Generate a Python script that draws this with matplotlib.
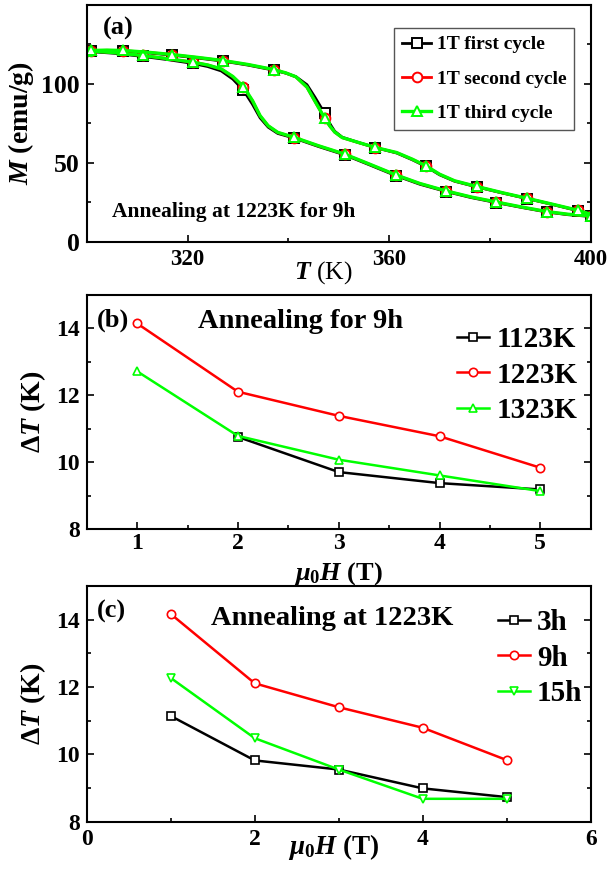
import matplotlib
matplotlib.use('Agg')
import matplotlib.pyplot as plt
from matplotlib.ticker import MultipleLocator, FixedLocator

plt.rcParams.update({
    'font.family': ['Liberation Serif', 'DejaVu Serif'],
    'font.weight': 'bold',
    'mathtext.fontset': 'custom',
    'mathtext.rm': 'Liberation Serif:bold',
    'mathtext.it': 'Liberation Serif:italic:bold',
    'mathtext.bf': 'Liberation Serif:bold',
    'axes.linewidth': 1.5,
})

# ---------------- panel (a) data : M(T) loops, 1 T ----------------
# warming branch (lower curve)
T_low = [300, 305.5, 311.1, 316, 321, 324, 326.7, 329, 331.1, 332.9, 334.4, 336, 337.9,
         341.2, 346, 351.2, 356.1, 361.3, 366.1, 371.3, 376.2, 381.2, 386.3, 391.3, 395.5, 400]
M_low_third = [121, 119.8, 118, 116, 113.8, 112, 109.5, 104.7, 98.3, 89.4, 79.9, 73.5, 69.3,
               66.1, 60.8, 55.5, 49.2, 42.4, 36.9, 32.2, 28.4, 25.2, 22, 19.1, 17.4, 16.3]
M_low_second = [121, 119.8, 118, 116, 113.8, 112, 109.4, 104.5, 98.0, 89.2, 79.7, 73.4, 69.2,
                66.0, 60.7, 55.4, 49.1, 42.3, 36.8, 32.1, 28.3, 25.1, 21.9, 19.0, 17.3, 16.2]
M_low_first = [120.6, 119.4, 117.4, 115.4, 113.0, 111.0, 108.2, 103.0, 96.0, 87.0, 78.5, 72.6, 68.6,
               65.6, 60.3, 55.0, 48.7, 41.9, 36.4, 31.8, 28.0, 24.8, 21.7, 18.8, 17.1, 16.0]
mark_low = [0, 2, 4, 8, 13, 15, 17, 19, 21, 23, 25]

# cooling branch (upper curve)
T_up = [300.8, 304, 307.2, 312, 317, 322, 327.1, 332, 337.1, 339.5, 341.5, 343.7, 345.3,
        347.2, 348.2, 349.2, 350.7, 353.8, 357.3, 361.5, 364.6, 367.3, 370, 373, 377.4,
        382.4, 387.4, 392.5, 397.5, 400]
M_up_third = [121.2, 121.4, 121.2, 120.1, 118.6, 116.8, 114.8, 112.3, 109.1, 107, 104.5, 98, 89,
              78.4, 73.5, 69.5, 66, 63, 59.7, 56.5, 52.3, 48.1, 42.8, 38.6, 35,
              31.1, 27.5, 23.7, 19.9, 17.4]
M_up_second = [121.1, 121.3, 121.1, 120.0, 118.5, 116.7, 114.7, 112.2, 109.0, 106.9, 104.4, 97.8, 88.8,
               78.3, 73.4, 69.4, 65.9, 62.9, 59.6, 56.4, 52.2, 48.0, 42.7, 38.5, 34.9,
               31.0, 27.4, 23.6, 19.8, 17.3]
M_up_first = [120.8, 121.0, 120.8, 119.7, 118.2, 116.4, 114.4, 111.9, 108.7, 106.8, 104.6, 99.5, 91.5,
              81.4, 75.0, 70.0, 66.2, 63.0, 59.6, 56.2, 51.9, 47.7, 42.4, 38.3, 34.7,
              30.9, 27.3, 23.5, 19.6, 17.2]
mark_up = [0, 2, 4, 6, 8, 13, 18, 21, 24, 26, 28]

M_ticks = [0, 50, 100]
M_minor = [25, 75, 125]

# ---------------- panel (b) data ----------------
H_b = [1, 2, 3, 4, 5]
H_b_1123 = [2, 3, 4, 5]
dT_1123K = [10.76, 9.71, 9.38, 9.19]
dT_1223K = [14.15, 12.11, 11.39, 10.78, 9.84]
dT_1323K = [12.72, 10.79, 10.08, 9.61, 9.14]

# ---------------- panel (c) data ----------------
H_c = [1, 2, 3, 4, 5]
dT_3h = [11.14, 9.82, 9.55, 8.99, 8.73]
dT_9h = [14.17, 12.11, 11.40, 10.79, 9.83]
dT_15h = [12.27, 10.48, 9.55, 8.68, 8.68]

BLACK = '#000000'
RED = '#ff0000'
GREEN = '#00ff00'

fig = plt.figure(figsize=(6.08, 8.69), dpi=100)
W, H = 608.0, 869.0


def axes_px(left, right, top, bottom):
    return fig.add_axes([left / W, 1 - bottom / H, (right - left) / W, (bottom - top) / H])


def style(ax, fs_x, fs_y, xpad=5):
    ax.tick_params(which='both', direction='in', top=False, right=True, width=1.2)
    ax.tick_params(which='major', length=5)
    ax.tick_params(which='minor', length=3)
    ax.tick_params(axis='x', labelsize=fs_x, pad=xpad)
    ax.tick_params(axis='y', labelsize=fs_y, pad=5)
    for lab in ax.get_xticklabels() + ax.get_yticklabels():
        lab.set_fontweight('bold')


def place_xlabel(ax, x, y):
    ax.xaxis.set_label_coords(x, y)
    ax.xaxis.label.set_va('center')


# ---------- (a) ----------
axa = axes_px(86.7, 590.7, 5, 241.7)
for Ml, Mu, c, mk, lab in [(M_low_first, M_up_first, BLACK, 's', '1T first cycle'),
                           (M_low_second, M_up_second, RED, 'o', '1T second cycle'),
                           (M_low_third, M_up_third, GREEN, '^', '1T third cycle')]:
    lw = 2.4 if c == GREEN else 2.0
    axa.plot(T_low, Ml, color=c, lw=lw, marker=mk, markevery=mark_low, ms=7,
             mfc='white', mec=c, mew=1.4, label=lab)
    axa.plot(T_up, Mu, color=c, lw=lw, marker=mk, markevery=mark_up, ms=7,
             mfc='white', mec=c, mew=1.4)
axa.set_xlim(300, 400)
axa.set_ylim(0, 150)
axa.xaxis.set_major_locator(MultipleLocator(40))
axa.xaxis.set_minor_locator(MultipleLocator(20))
axa.yaxis.set_major_locator(FixedLocator(M_ticks))
axa.yaxis.set_minor_locator(FixedLocator(M_minor))
style(axa, 16.5, 18.5)
axa.set_ylabel(r'$\mathit{M}$ (emu/g)', fontsize=20, fontweight='bold', labelpad=4)
axa.set_xlabel(r'$\mathit{T}$ (K)', fontsize=18.5, fontweight='normal')
place_xlabel(axa, 0.47, -0.132)
leg = axa.legend(loc='upper left', bbox_to_anchor=(0.61, 0.903), borderaxespad=0,
                 prop={'family': 'Liberation Serif', 'weight': 'bold', 'size': 14},
                 handlelength=1.5, handletextpad=0.3, labelspacing=0.86, borderpad=0.4,
                 fancybox=False, edgecolor='#555555', framealpha=1, numpoints=1)
leg.get_frame().set_linewidth(1.0)
axa.text(0.032, 0.899, '(a)', transform=axa.transAxes, fontsize=19, fontweight='bold',
         va='center', ha='left')
axa.text(0.05, 0.125, 'Annealing at 1223K for 9h', transform=axa.transAxes, fontsize=15.5,
         fontweight='bold', va='center', ha='left')

# ---------- (b) ----------
axb = axes_px(86.7, 590.7, 295, 529.3)
axb.plot(H_b_1123, dT_1123K, color=BLACK, lw=1.8, marker='s', ms=5.5, mfc='white', mec=BLACK,
         mew=1.2, label='1123K')
axb.plot(H_b, dT_1223K, color=RED, lw=1.8, marker='o', ms=6, mfc='white', mec=RED,
         mew=1.2, label='1223K')
axb.plot(H_b, dT_1323K, color=GREEN, lw=1.8, marker='^', ms=6, mfc='white', mec=GREEN,
         mew=1.2, label='1323K')
axb.set_xlim(0.5, 5.5)
axb.set_ylim(8, 15)
axb.xaxis.set_major_locator(MultipleLocator(1))
axb.xaxis.set_minor_locator(MultipleLocator(0.5))
axb.yaxis.set_major_locator(MultipleLocator(2))
axb.yaxis.set_minor_locator(MultipleLocator(1))
style(axb, 17, 17, xpad=3)
axb.set_ylabel(r'$\mathit{\Delta T}$ (K)', fontsize=20, fontweight='bold', labelpad=6)
axb.set_xlabel(r'$\mathit{\mu_0 H}$ (T)', fontsize=19, fontweight='bold')
place_xlabel(axb, 0.50, -0.19)
axb.legend(loc='upper left', bbox_to_anchor=(0.735, 0.868), borderaxespad=0, borderpad=0,
           prop={'family': 'Liberation Serif', 'weight': 'bold', 'size': 21},
           handlelength=1.1, handletextpad=0.24, labelspacing=0.3, frameon=False, numpoints=1)
axb.text(0.02, 0.893, '(b)', transform=axb.transAxes, fontsize=19, fontweight='bold',
         va='center', ha='left')
axb.text(0.221, 0.885, 'Annealing for 9h', transform=axb.transAxes, fontsize=20.5,
         fontweight='bold', va='center', ha='left')

# ---------- (c) ----------
axc = axes_px(86.7, 590.7, 586, 821.7)
axc.plot(H_c, dT_3h, color=BLACK, lw=1.8, marker='s', ms=5.5, mfc='white', mec=BLACK,
         mew=1.2, label='3h')
axc.plot(H_c, dT_9h, color=RED, lw=1.8, marker='o', ms=6, mfc='white', mec=RED,
         mew=1.2, label='9h')
axc.plot(H_c, dT_15h, color=GREEN, lw=1.8, marker='v', ms=6, mfc='white', mec=GREEN,
         mew=1.2, label='15h')
axc.set_xlim(0, 6)
axc.set_ylim(8, 15)
axc.xaxis.set_major_locator(MultipleLocator(2))
axc.xaxis.set_minor_locator(MultipleLocator(1))
axc.yaxis.set_major_locator(MultipleLocator(2))
axc.yaxis.set_minor_locator(MultipleLocator(1))
style(axc, 17, 17)
axc.set_ylabel(r'$\mathit{\Delta T}$ (K)', fontsize=20, fontweight='bold', labelpad=6)
axc.set_xlabel(r'$\mathit{\mu_0 H}$ (T)', fontsize=19.5, fontweight='bold')
place_xlabel(axc, 0.49, -0.107)
axc.legend(loc='upper left', bbox_to_anchor=(0.816, 0.903), borderaxespad=0, borderpad=0,
           prop={'family': 'Liberation Serif', 'weight': 'bold', 'size': 21},
           handlelength=1.1, handletextpad=0.24, labelspacing=0.3, frameon=False, numpoints=1)
axc.text(0.02, 0.89, '(c)', transform=axc.transAxes, fontsize=19, fontweight='bold',
         va='center', ha='left')
axc.text(0.247, 0.864, 'Annealing at 1223K', transform=axc.transAxes, fontsize=20.5,
         fontweight='bold', va='center', ha='left')

fig.savefig('out.png', dpi=100)
